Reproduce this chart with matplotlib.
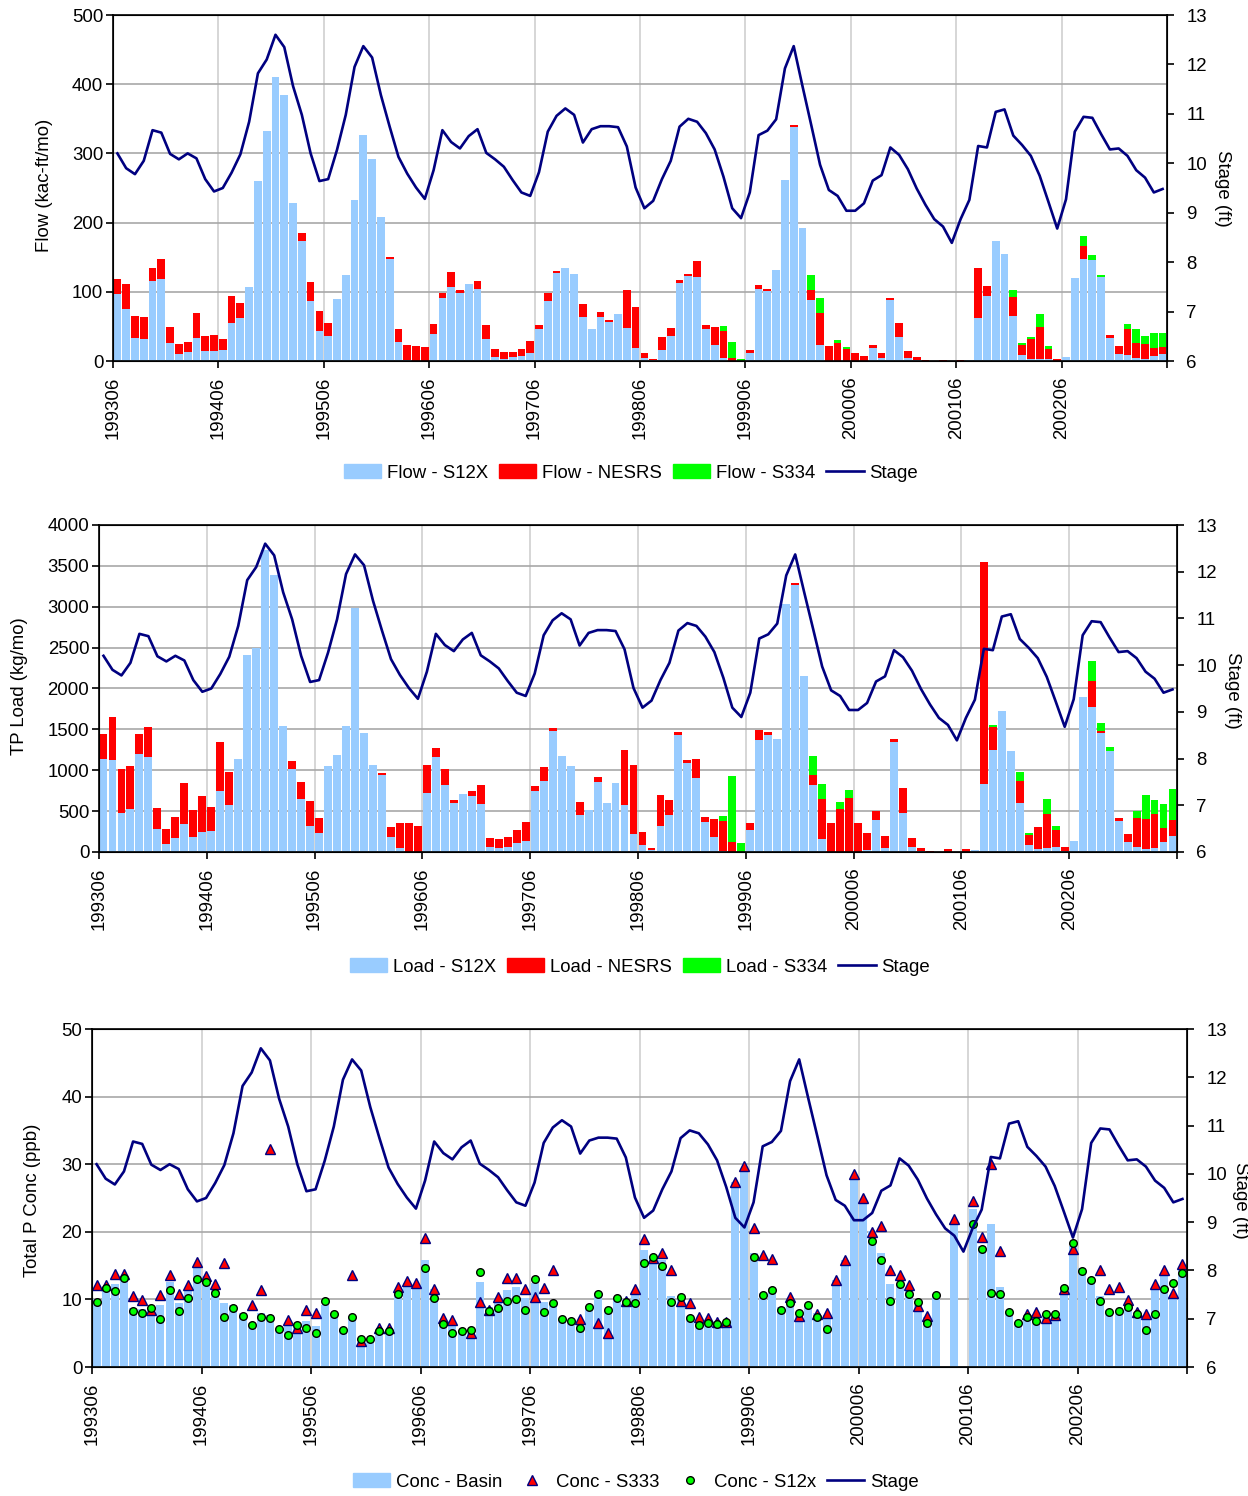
import numpy as np
import matplotlib.pyplot as plt
from matplotlib.patches import Patch
from matplotlib.lines import Line2D

plt.rcParams['font.family'] = ['Liberation Sans', 'DejaVu Sans']
plt.rcParams['font.size'] = 13.4

nan = np.nan

# tick labels, one every 12 months (199306 .. 200305 = 120 months)
year_labels = ['199306', '199406', '199506', '199606', '199706',
               '199806', '199906', '200006', '200106', '200206']

stage = [10.2, 9.9, 9.78, 10.05, 10.67, 10.62, 10.19, 10.08, 10.2, 10.1, 9.68, 9.43,
         9.5, 9.81, 10.18, 10.84, 11.82, 12.1, 12.6, 12.35, 11.56, 10.98, 10.2, 9.64,
         9.68, 10.27, 10.98, 11.95, 12.37, 12.14, 11.38, 10.74, 10.13, 9.79, 9.51, 9.28,
         9.86, 10.67, 10.43, 10.30, 10.55, 10.69, 10.21, 10.08, 9.93, 9.66, 9.41, 9.34,
         9.82, 10.64, 10.96, 11.11, 10.98, 10.42, 10.69, 10.75, 10.75, 10.73, 10.34, 9.51,
         9.09, 9.24, 9.68, 10.05, 10.74, 10.90, 10.84, 10.61, 10.28, 9.73, 9.09, 8.89,
         9.41, 10.57, 10.66, 10.89, 11.92, 12.37, 11.56, 10.77, 9.97, 9.46, 9.34, 9.04,
         9.04, 9.19, 9.65, 9.76, 10.32, 10.17, 9.88, 9.49, 9.16, 8.87, 8.72, 8.39,
         8.87, 9.26, 10.35, 10.32, 11.04, 11.09, 10.56, 10.37, 10.15, 9.75, 9.22, 8.68,
         9.27, 10.64, 10.94, 10.92, 10.59, 10.28, 10.30, 10.15, 9.86, 9.71, 9.41, 9.48]

flow_s12x = [97, 75, 33, 32, 115, 118, 26, 10, 13, 33, 14, 14,
             16, 55, 62, 107, 260, 333, 410, 384, 228, 173, 87, 43,
             36, 90, 124, 232, 326, 292, 208, 147, 27, 1, 0, 0,
             39, 91, 107, 98, 111, 104, 32, 6, 3, 6, 7, 12,
             46, 87, 127, 134, 126, 64, 46, 64, 56, 68, 48, 19,
             4, 1, 16, 36, 113, 123, 121, 46, 23, 4, 0, 0,
             12, 104, 101, 131, 261, 338, 192, 88, 23, 0, 0, 0,
             0, 0, 19, 4, 88, 35, 4, 1, 0, 0, 0, 0,
             0, 1, 62, 94, 173, 154, 65, 9, 3, 3, 3, 0,
             6, 120, 147, 146, 121, 33, 10, 9, 4, 3, 7, 10]

flow_nesrs = [21, 36, 32, 31, 19, 30, 23, 14, 14, 36, 22, 23,
              16, 39, 22, 0, 0, 0, 0, 0, 0, 12, 27, 29,
              19, 0, 0, 0, 0, 0, 0, 3, 19, 22, 22, 20,
              14, 7, 21, 4, 0, 11, 20, 11, 10, 7, 10, 17,
              6, 11, 3, 0, 0, 19, 0, 7, 3, 0, 55, 59,
              7, 2, 19, 12, 4, 3, 23, 6, 26, 40, 4, 0,
              4, 6, 3, 0, 0, 3, 0, 14, 46, 22, 26, 17,
              11, 7, 4, 7, 3, 20, 10, 5, 1.5, 0, 1.5, 0,
              1.5, 0, 72, 14, 0, 0, 27, 14, 29, 46, 14, 3,
              0, 0, 19, 0, 0, 4.5, 12, 37, 22, 21, 12, 10]

flow_s334 = [0] * 69 + [7, 23, 3, 0, 0, 0, 0, 0, 0, 0, 22, 22, 0, 4, 3] + [0] * 18 + \
            [10, 3, 3, 19, 5, 0, 0, 0, 14, 7, 3, 0, 0, 7, 20, 12, 21, 20]

load_s12x = [1135, 1123, 473, 522, 1196, 1159, 278, 94, 167, 339, 180, 241,
             253, 743, 571, 1135, 2408, 2494, 3700, 3388, 1539, 1012, 645, 314,
             229, 1049, 1184, 1539, 2984, 1453, 1061, 939, 180, 45, 0, 0,
             718, 1159, 816, 596, 706, 682, 584, 57, 45, 57, 106, 131,
             743, 865, 1478, 1171, 1049, 449, 510, 853, 596, 841, 571, 216,
             82, 20, 314, 449, 1429, 1086, 902, 363, 180, 8, 0, 0,
             265, 1367, 1429, 1380, 3033, 3266, 2151, 816, 155, 0, 0, 0,
             0, 20, 388, 45, 1343, 473, 57, 8, 0, 0, 0, 0,
             0, 20, 829, 1245, 1723, 1233, 596, 82, 33, 45, 57, 8,
             131, 1894, 1772, 1453, 1233, 376, 118, 57, 33, 45, 118, 192]

load_nesrs = [314, 526, 539, 527, 245, 368, 257, 184, 258, 502, 330, 441,
              294, 600, 405, 0, 0, 0, 0, 0, 0, 98, 208, 306,
              183, 0, 0, 0, 0, 0, 0, 24, 122, 306, 351, 314,
              343, 111, 196, 37, 0, 61, 232, 110, 110, 123, 159, 232,
              61, 172, 36, 0, 0, 159, 0, 61, 0, 0, 674, 845,
              159, 25, 380, 184, 36, 37, 233, 62, 220, 368, 118, 0,
              86, 123, 36, 0, 0, 24, 0, 123, 490, 351, 522, 657,
              351, 209, 110, 147, 37, 307, 110, 37, 10, 0, 33, 0,
              33, 0, 2718, 282, 0, 0, 269, 122, 269, 416, 208, 49,
              0, 0, 318, 25, 0, 36, 98, 355, 367, 416, 172, 196]

load_s334 = [0] * 69 + [61, 809, 106, 0, 0, 0, 0, 0, 0, 0, 232, 184, 0, 86, 98] + \
            [0] * 15 + [24, 0, 0, 111, 25, 0, 184, 49, 0, 0, 0, 245, 98, 49, 0, 0,
                        86, 294, 172, 294, 379]

conc_basin = [10.0, 11.9, 12.3, 13.4, 8.7, 8.6, 8.7, 9.2, 12.6, 9.5, 11.3, 14.6,
              13.4, 11.4, 9.4, 9.1, 8.0, 6.5, 8.0, 7.7, 5.5, 6.0, 6.0, 6.85,
              6.0, 9.2, 8.0, 5.8, 7.25, 3.65, 4.0, 5.3, 5.3, 11.2, 12.4, 12.2,
              15.9, 11.5, 6.5, 6.5, 5.3, 5.0, 12.6, 8.9, 9.7, 11.4, 11.8, 10.2,
              12.4, 9.6, 9.5, 7.1, 6.75, 6.5, 9.0, 10.7, 8.5, 10.2, 10.05, 10.95,
              17.3, 16.4, 15.9, 10.55, 10.45, 7.5, 6.75, 6.75, 6.4, 6.4, 27.4, 29.2,
              16.9, 11.0, 11.7, 8.9, 9.7, 7.5, 9.0, 8.0, 7.7, 12.9, 15.9, 28.0,
              24.5, 20.1, 16.8, 12.3, 12.3, 11.4, 9.2, 7.35, 10.85, nan, 21.5, nan,
              23.4, 17.85, 21.2, 11.8, 8.0, 6.5, 7.6, 7.6, 7.7, 7.7, 11.8, 17.85,
              14.6, 12.7, 10.45, 8.5, 8.5, 9.2, 8.2, 7.5, 11.9, 13.8, 10.7, 14.6]

conc_s333 = [12.2, 12.2, 13.8, 13.7, 10.55, 9.96, 8.4, 10.7, 13.6, 10.85, 12.1, 15.6,
             13.4, 12.3, 15.4, nan, nan, 9.1, 11.4, 32.2, nan, 6.9, 5.8, 8.5,
             8.0, nan, nan, nan, 13.6, 3.85, nan, 5.8, 5.8, 11.9, 12.7, 12.5,
             19.1, 11.6, 7.2, 6.9, nan, 5.1, 9.6, 8.4, 10.35, 13.2, 13.2, 11.6,
             10.35, 11.7, 14.3, nan, nan, 7.15, nan, 6.45, 5.1, nan, 9.76, 11.6,
             19.0, 16.1, 16.9, 14.3, 9.7, 9.4, 7.35, 7.25, 6.7, 6.6, 27.3, 29.8,
             20.6, 16.5, 16.0, nan, 10.35, 7.6, nan, 7.9, 8.0, 12.9, 15.8, 28.5,
             24.95, 19.9, 20.8, 14.3, 13.6, 12.1, 9.0, 7.6, nan, nan, 21.9, nan,
             24.6, 19.3, 30.0, 17.2, nan, nan, 7.9, 8.2, 7.2, 7.7, 11.6, 17.4,
             nan, nan, 14.3, 11.6, 11.9, 9.96, 8.2, 7.8, 12.3, 14.3, 11.0, 15.2]

conc_s12x = [9.57, 11.7, 11.2, 13.2, 8.3, 8.0, 8.7, 7.05, 11.4, 8.3, 10.2, 13.0,
             12.6, 11.0, 7.45, 8.7, 7.6, 6.2, 7.45, 7.25, 5.6, 4.7, 6.2, 5.8,
             5.1, 9.76, 7.8, 5.4, 7.45, 4.2, 4.2, 5.3, 5.3, 10.85, nan, nan,
             14.6, 10.2, 6.4, 5.0, 5.3, 5.4, 14.1, 8.3, 8.7, 9.76, 10.1, 8.5,
             13.0, 8.1, 9.4, 7.05, 6.85, 5.8, 8.9, 10.85, 8.5, 10.2, 9.57, 9.4,
             15.4, 16.3, 15.0, 9.57, 10.3, 7.25, 6.2, 6.5, 6.3, 6.7, nan, nan,
             16.3, 10.65, 11.4, 8.5, 9.4, 8.0, 9.1, 7.45, 5.6, nan, nan, nan,
             nan, 18.6, 15.9, 9.76, 12.3, 10.85, 9.57, 6.5, 10.65, nan, nan, nan,
             21.15, 17.5, 11.0, 10.85, 8.1, 6.5, 7.4, 6.85, 7.9, 7.9, 11.7, 18.4,
             14.25, 12.8, 9.76, 8.1, 8.3, 8.9, 7.9, 5.4, 7.9, 11.5, 12.4, 13.9]

BLUE = '#99CCFF'
RED = '#FF0000'
GREEN = '#00FF00'
NAVY = '#000080'

n = len(stage)
x = np.arange(n) + 0.5
W = 0.88

fig = plt.figure(figsize=(12.48, 14.96), dpi=100)
W_PX, H_PX = 1248, 1496


def add_axes(left, top, right, bottom):
    return fig.add_axes([left / W_PX, 1 - bottom / H_PX,
                         (right - left) / W_PX, (bottom - top) / H_PX])


def style(ax, ylim, yticks):
    ax.set_xlim(0, n)
    ax.set_ylim(*ylim)
    ax.set_yticks(yticks)
    ax.set_xticks(np.arange(0, n + 1, 12))
    ax.set_xticklabels(year_labels + [''], rotation=90)
    ax.grid(axis='y', color='#a8a8a8', lw=1.2)
    ax.grid(axis='x', color='#d0d0d0', lw=1.2)
    ax.set_axisbelow(True)
    ax.tick_params(direction='out', length=5, width=1.2, labelsize=13.4)
    ax.tick_params(axis='x', pad=6)
    ax.tick_params(axis='y', pad=2)
    for s in ax.spines.values():
        s.set_linewidth(1.2)
    ax2 = ax.twinx()
    ax2.set_ylim(6, 13)
    ax2.set_yticks(range(6, 14))
    ax2.tick_params(direction='out', length=5, width=1.2, labelsize=13.4, pad=9)
    ax2.plot(x, stage, color=NAVY, lw=1.9)
    return ax2


leg_kw = dict(loc='center', ncol=4, frameon=False, handlelength=2.0,
              handleheight=0.8, handletextpad=0.3, columnspacing=0.6, fontsize=13.4)

# ---- panel 1: flow
ax = add_axes(113, 15, 1167, 361)
b1 = np.array(flow_s12x, float)
b2 = np.array(flow_nesrs, float)
b3 = np.array(flow_s334, float)
ax.bar(x, b1, W, color=BLUE)
ax.bar(x, b2, W, bottom=b1, color=RED)
ax.bar(x, b3, W, bottom=b1 + b2, color=GREEN)
style(ax, (0, 500), range(0, 501, 100))
fig.text(45 / W_PX, 1 - 185 / H_PX, 'Flow (kac-ft/mo)', rotation=90, ha='center', va='center')
fig.text(1222 / W_PX, 1 - 188 / H_PX, 'Stage (ft)', rotation=270, ha='center', va='center')
h = [Patch(color=BLUE), Patch(color=RED), Patch(color=GREEN), Line2D([], [], color=NAVY, lw=1.9)]
fig.legend(h, ['Flow - S12X', 'Flow - NESRS', 'Flow - S334', 'Stage'],
           bbox_to_anchor=(631 / W_PX, 1 - 473 / H_PX), **leg_kw)

# ---- panel 2: load
ax = add_axes(99, 525, 1177, 852)
l1 = np.array(load_s12x, float)
l2 = np.array(load_nesrs, float)
l3 = np.array(load_s334, float)
ax.bar(x, l1, W, color=BLUE)
ax.bar(x, l2, W, bottom=l1, color=RED)
ax.bar(x, l3, W, bottom=l1 + l2, color=GREEN)
style(ax, (0, 4000), range(0, 4001, 500))
fig.text(20 / W_PX, 1 - 686 / H_PX, 'TP Load (kg/mo)', rotation=90, ha='center', va='center')
fig.text(1232 / W_PX, 1 - 690 / H_PX, 'Stage (ft)', rotation=270, ha='center', va='center')
fig.legend(h, ['Load - S12X', 'Load - NESRS', 'Load - S334', 'Stage'],
           bbox_to_anchor=(640 / W_PX, 1 - 967 / H_PX), **leg_kw)

# ---- panel 3: concentration
ax = add_axes(92, 1029, 1187, 1367)
ax.bar(x, conc_basin, W, color=BLUE)
ax.plot(x, conc_s333, ls='none', marker='^', ms=7, mfc=RED, mec=NAVY, mew=1)
ax.plot(x, conc_s12x, ls='none', marker='o', ms=5.5, mfc=GREEN, mec='black', mew=1)
style(ax, (0, 50), range(0, 51, 10))
fig.text(33 / W_PX, 1 - 1200 / H_PX, 'Total P Conc (ppb)', rotation=90, ha='center', va='center')
fig.text(1240 / W_PX, 1 - 1200 / H_PX, 'Stage (ft)', rotation=270, ha='center', va='center')
h3 = [Patch(color=BLUE),
      Line2D([], [], ls='none', marker='^', ms=7, mfc=RED, mec=NAVY),
      Line2D([], [], ls='none', marker='o', ms=5.5, mfc=GREEN, mec='black'),
      Line2D([], [], color=NAVY, lw=1.9)]
fig.legend(h3, ['Conc - Basin', 'Conc - S333', 'Conc - S12x', 'Stage'],
           bbox_to_anchor=(636 / W_PX, 1 - 1482 / H_PX), **leg_kw)

fig.savefig('out.png', dpi=100)
